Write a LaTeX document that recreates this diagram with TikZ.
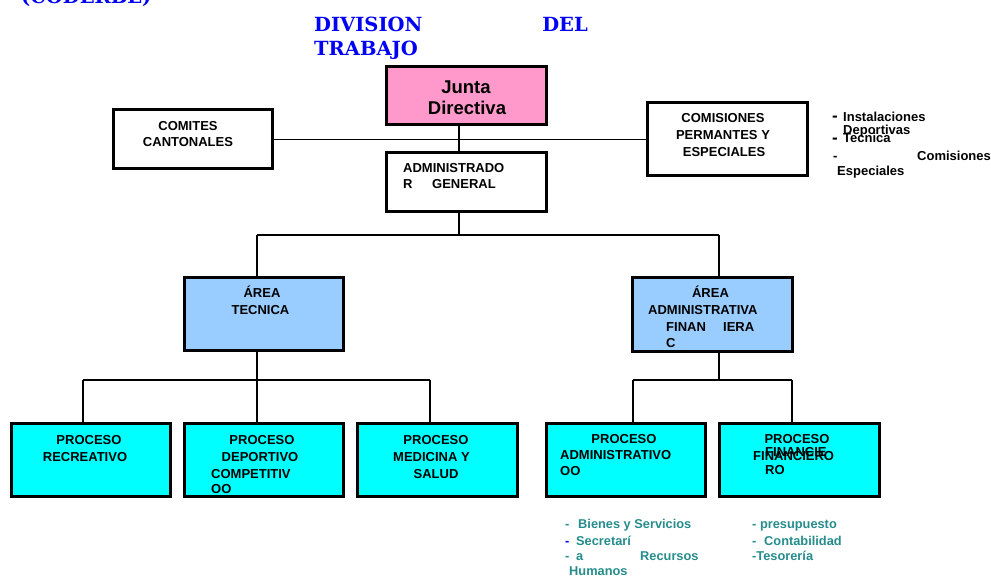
\documentclass[tikz,border=0pt]{standalone}
\usepackage{fontspec}
\setmainfont{Liberation Sans}
\newfontfamily\titlefont{DejaVu Serif}
\definecolor{pinkbox}{RGB}{255,153,204}
\definecolor{bluebox}{RGB}{153,204,255}
\definecolor{cyanbox}{RGB}{0,255,255}
\definecolor{titleblue}{RGB}{0,0,245}
\definecolor{tealtxt}{RGB}{38,140,140}
\begin{document}
\begin{tikzpicture}[x=1pt,y=-1pt,
  box/.style={draw=black, line width=3pt, inner sep=0pt, rectangle},
  t/.style={font=\fontsize{13}{15}\selectfont\bfseries, inner sep=0pt, anchor=base},
  tl/.style={t, anchor=base west},
  big/.style={font=\fontsize{18.5}{21}\selectfont\bfseries, inner sep=0pt, anchor=base},
  ttl/.style={font=\titlefont\bfseries\fontsize{19.5}{22}\selectfont, text=titleblue, inner sep=0pt, anchor=base west},
  lst/.style={font=\fontsize{12.8}{15}\selectfont\bfseries, text=tealtxt, inner sep=0pt, anchor=base west},
  dsh/.style={font=\fontsize{17}{18}\selectfont\bfseries, inner sep=0pt, anchor=base west},
  conn/.style={line width=2.6pt},
  thinconn/.style={line width=1.2pt}]
\useasboundingbox (0,0) rectangle (991,577);
\fill[white] (0,0) rectangle (991,577);

% title
\node[ttl] (tcod) at (21,4) {(CODERBE)};
\node[ttl] (tdiv) at (314,32) {DIVISION};
\node[ttl, anchor=base east] (tdel) at (588,32) {DEL};
\node[ttl] (ttra) at (314,56) {TRABAJO};

% boxes
\node[box, fill=pinkbox, minimum width=160pt, minimum height=58pt] (junta) at (466,96) {};
\node[box, fill=white, minimum width=160pt, minimum height=59pt] (admin) at (466,182.5) {};
\node[box, fill=white, minimum width=159pt, minimum height=59pt] (comites) at (192.5,139.5) {};
\node[box, fill=white, minimum width=160pt, minimum height=73pt] (comis) at (727,139.5) {};
\node[box, fill=bluebox, minimum width=159pt, minimum height=73pt] (areaT) at (263.5,314.5) {};
\node[box, fill=bluebox, minimum width=160pt, minimum height=74pt] (areaA) at (712,315) {};
\node[box, fill=cyanbox, minimum width=159pt, minimum height=73pt] (pRec) at (90.5,459.5) {};
\node[box, fill=cyanbox, minimum width=159pt, minimum height=73pt] (pDep) at (263.5,459.5) {};
\node[box, fill=cyanbox, minimum width=160pt, minimum height=73pt] (pMed) at (437,459.5) {};
\node[box, fill=cyanbox, minimum width=159pt, minimum height=73pt] (pAdm) at (625.5,459.5) {};
\node[box, fill=cyanbox, minimum width=160pt, minimum height=73pt] (pFin) at (799,459.5) {};

% junction coordinates
\coordinate (jA) at (459,235);
\coordinate (jT) at (257,235);
\coordinate (jF) at (719,235);
\coordinate (kT) at (257,380);
\coordinate (kL) at (83,380);
\coordinate (kR) at (430,380);
\coordinate (kA) at (719,380);
\coordinate (kAL) at (633,380);
\coordinate (kAR) at (792,380);

% connectors
\draw[thinconn] (comites.east) -- (comis.west);
\draw[conn] (junta.south -| jA) -- (admin.north -| jA);
\draw[thinconn] (admin.south -| jA) -- (jA);
\draw[conn] (jT) -- (jF);
\draw[conn] (jT) -- (jT |- areaT.north);
\draw[conn] (jF) -- (jF |- areaA.north);
\draw[conn] (areaT.south -| kT) -- (kT);
\draw[conn] (kL) -- (kR);
\draw[conn] (kL) -- (kL |- pRec.north);
\draw[conn] (kT) -- (kT |- pDep.north);
\draw[conn] (kR) -- (kR |- pMed.north);
\draw[conn] (areaA.south -| kA) -- (kA);
\draw[conn] (kAL) -- (kAR);
\draw[conn] (kAL) -- (kAL |- pAdm.north);
\draw[conn] (kAR) -- (kAR |- pFin.north);

% box texts
\node[big] (tj1) at (466,94) {Junta};
\node[big] (tj2) at (467,115) {Directiva};
\node[tl] (ta1) at (403,173) {ADMINISTRADO};
\node[tl] (ta2) at (403,189) {R};
\node[tl] (ta3) at (432,189) {GENERAL};
\node[t] (tc1) at (188,131) {COMITES};
\node[t] (tc2) at (188,147) {CANTONALES};
\node[t] (tm1) at (723,123) {COMISIONES};
\node[t] (tm2) at (723,140) {PERMANTES Y};
\node[t] (tm3) at (724,157) {ESPECIALES};

% right list
\node[dsh] (d1) at (832,122) {-};
\node[tl] (l1) at (843,122) {Instalaciones};
\node[tl] (l2) at (843,135) {Deportivas};
\node[dsh] (d2) at (832,144) {-};
\node[tl] (l3) at (843,143) {Tecnica};
\node[tl] (d3) at (833,161) {-};
\node[tl] (l4) at (917,161) {Comisiones};
\node[tl] (l5) at (837,176) {Especiales};

% area texts
\node[t] (at1) at (262,298) {ÁREA};
\node[t] (at2) at (260.5,315) {TECNICA};
\node[t] (aa1) at (710.5,298) {ÁREA};
\node[tl] (aa2) at (648,315) {ADMINISTRATIVA};
\node[tl] (aa3) at (666,332) {FINAN};
\node[tl] (aa4) at (723,332) {IERA};
\node[tl] (aa5) at (666,348) {C};

% process texts
\node[t] (pr1) at (89,444) {PROCESO};
\node[t] (pr2) at (85,461) {RECREATIVO};
\node[t] (pd1) at (262,444) {PROCESO};
\node[t] (pd2) at (260,461) {DEPORTIVO};
\node[tl] (pd3) at (211,478) {COMPETITIV};
\node[tl] (pd4) at (211,493) {OO};
\node[t] (pm1) at (436,444) {PROCESO};
\node[t] (pm2) at (431.5,461) {MEDICINA Y};
\node[t] (pm3) at (436,478) {SALUD};
\node[t] (pa1) at (624,443) {PROCESO};
\node[tl] (pa2) at (560,459) {ADMINISTRATIVO};
\node[tl] (pa3) at (560,475) {OO};
\node[t] (pf1) at (797,443) {PROCESO};
\node[tl] (pf2) at (765,456) {FINANCIE};
\node[tl] (pf3) at (753,460) {FINANCIERO};
\node[tl] (pf4) at (765,474) {RO};

% bottom lists
\node[lst] (b1d) at (565,528) {-};
\node[lst] (b1) at (578,528) {Bienes y Servicios};
\node[lst, text=blue] (b2d) at (565,545) {-};
\node[lst] (b2) at (576,545) {Secretarí};
\node[lst] (b3d) at (565,560) {-};
\node[lst] (b3) at (576,560) {a};
\node[lst] (b4) at (640,560) {Recursos};
\node[lst] (b5) at (569,575) {Humanos};
\node[lst] (c1) at (752,528) {- presupuesto};
\node[lst] (c2d) at (752,545) {-};
\node[lst] (c2) at (764,545) {Contabilidad};
\node[lst] (c3) at (752,560) {-Tesorería};
\end{tikzpicture}
\end{document}
